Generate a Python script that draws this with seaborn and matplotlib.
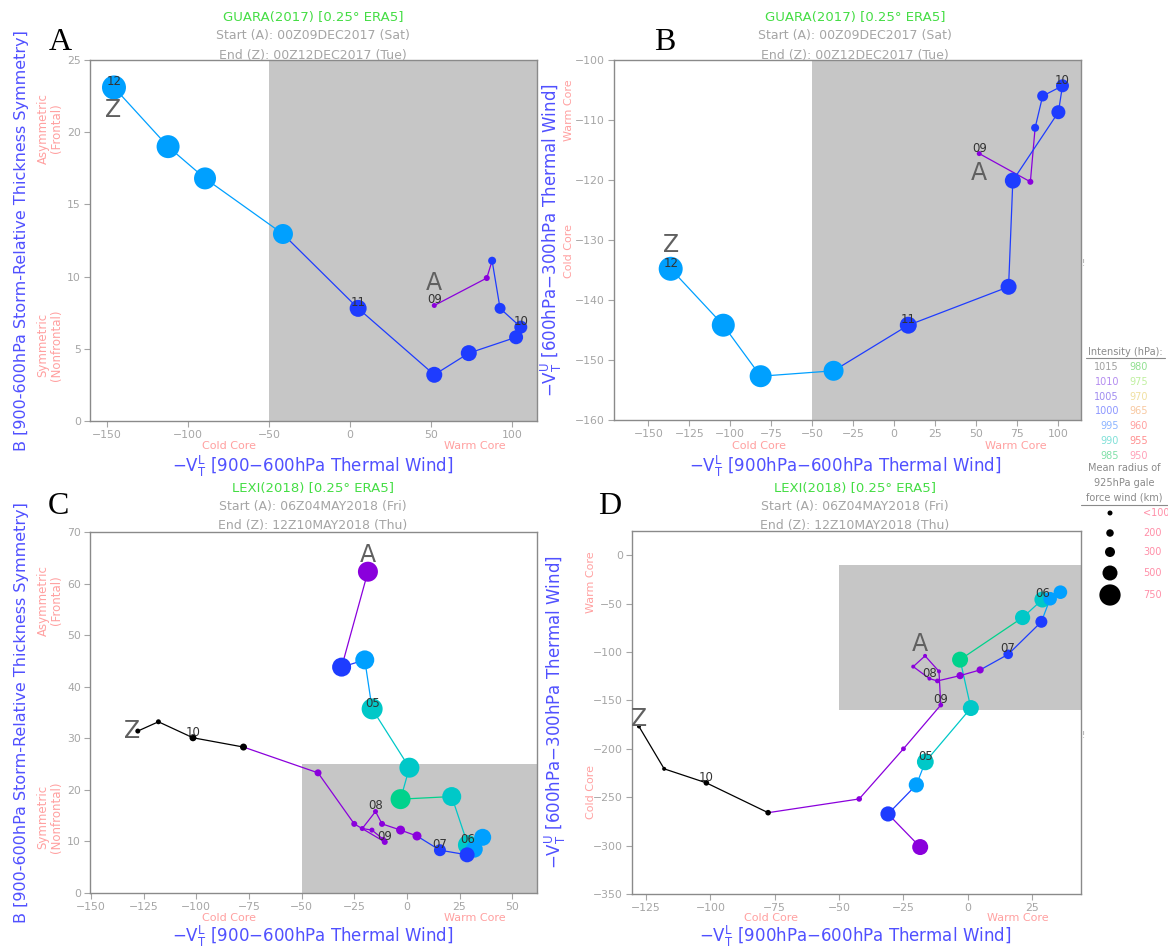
import numpy as np
import pandas as pd
import matplotlib
matplotlib.use("Agg")
import matplotlib.pyplot as plt
import seaborn as sns
from matplotlib.lines import Line2D

# ---------------- data ----------------
# GUARA (2017), 6-hourly from 00Z09DEC2017 to 00Z12DEC2017
guara_vtl = [52.0, 84.4, 87.7, 92.6, 105.4, 102.5, 73.3, 52.0, 5.0, -41.4, -89.5, -112.3, -145.7]
guara_b = [8.0, 9.9, 11.1, 7.8, 6.5, 5.8, 4.7, 3.2, 7.8, 12.95, 16.8, 19.0, 23.1]
# lower-troposphere thermal wind
guara_vtl_b = [51.9, 83.1, 86.0, 90.6, 102.7, 100.2, 72.4, 69.8, 8.6, -37.0, -81.5, -104.3, -136.4]
guara_vtu = [-115.6, -120.3, -111.3, -106.0, -104.3, -108.7, -120.1, -137.8, -144.2, -151.8, -152.7, -144.2, -134.8]
guara_mslp = [1010, 1010, 1000, 1000, 1000, 1000, 1000, 1000, 1000, 995, 995, 995, 995]
guara_radius = [100, 140, 220, 340, 420, 460, 540, 540, 580, 700, 780, 820, 860]
guara_days = ['09', '', '', '', '10', '', '', '', '11', '', '', '', '12']

# LEXI (2018), 6-hourly from 06Z04MAY2018 to 12Z10MAY2018
lexi_vtl = [-18.5, -31.0, -20.0, -16.5, 1.2, -3.0, 21.3, 29.0, 36.0, 32.0, 28.6, 15.7, 4.8, -3.0,
            -11.8, -14.9, -21.2, -16.6, -11.2, -10.5, -25.0, -42.2, -77.6, -101.6, -118.0, -127.8]
lexi_b = [62.3, 43.8, 45.2, 35.7, 24.3, 18.2, 18.7, 9.3, 10.8, 8.5, 7.4, 8.3, 11.05, 12.2,
          13.4, 15.8, 12.5, 12.2, 10.4, 9.9, 13.4, 23.3, 28.3, 30.1, 33.2, 31.4]
lexi_vtu = [-301.5, -267.3, -237.3, -213.5, -157.9, -107.9, -64.4, -45.8, -38.2, -45.0, -68.8, -102.4, -118.5,
            -124.4, -129.9, -127.5, -115.1, -104.0, -120.0, -154.8, -200.0, -251.8, -266.0, -235.2, -220.7, -176.9]
lexi_mslp = [1010, 1000, 995, 990, 990, 985, 990, 990, 995, 995, 1000, 1000, 1010, 1010,
             1010, 1010, 1010, 1010, 1010, 1010, 1010, 1010, 1015, 1015, 1015, 1015]
lexi_radius = [700, 660, 660, 740, 700, 700, 660, 700, 580, 580, 500, 380, 260, 260,
               140, 100, 100, 100, 100, 140, 140, 180, 180, 180, 100, 100]
lexi_days = ['', '', '', '05', '', '', '', '06', '', '', '', '07', '', '', '', '08',
             '', '', '', '09', '', '', '', '10', '', '']

# legend content
legend_pressures_left = [1015, 1010, 1005, 1000, 995, 990, 985]
legend_pressures_right = [980, 975, 970, 965, 960, 955, 950]
legend_radius_vals = [100, 200, 300, 500, 750]
legend_radius_text = ['<100', '200', '300', '500', '750']

# ---------------- styles ----------------
MARKER_COL = {1015: '#000000', 1010: '#8a00dc', 1005: '#5a1eff', 1000: '#1e3cff',
              995: '#00a0ff', 990: '#00c8c8', 985: '#00d28c'}
LEGEND_COL = {1015: '#a0a0a0', 1010: '#b48cf0', 1005: '#a08cf0', 1000: '#8c96ff', 995: '#8cb4ff',
              990: '#80e0d8', 985: '#80e0a8', 980: '#90e090', 975: '#c0f0a0', 970: '#f0e0a0',
              965: '#f8c8a0', 960: '#ffa0a0', 955: '#ff9090', 950: '#ffa0b8'}
BLUE = '#5050ff'
PINK = '#ffa0a0'
GRAY = '#a5a5a5'
GREEN = '#44dd44'
SHADE = '#c6c6c6'

sns.set_theme(style="white")
plt.rcParams['font.family'] = ['DejaVu Sans']
plt.rcParams['mathtext.default'] = 'regular'

W, H = 1168, 948
fig = plt.figure(figsize=(W / 100, H / 100), dpi=100)


def px_axes(l, t, r, b):
    return fig.add_axes([l / W, 1 - b / H, (r - l) / W, (b - t) / H])


def ftext(x, y, s, **kw):
    fig.text(x / W, 1 - y / H, s, **kw)


def diam(r):
    return 2.5 + 0.025 * r


def style_axes(ax, xlim, ylim, xticks, yticks):
    ax.set_xlim(*xlim)
    ax.set_ylim(*ylim)
    ax.set_xticks(xticks)
    ax.set_yticks(yticks)
    ax.tick_params(direction='out', length=4, width=0.8, color=GRAY, labelcolor=GRAY,
                   labelsize=7.8, pad=2.5, bottom=True, left=True)
    for sp in ax.spines.values():
        sp.set_color('#8a8a8a')
        sp.set_linewidth(1.0)
    ax.set_xlabel('')
    ax.set_ylabel('')


def draw_track(ax, x, y, mslp, radius, days, scale):
    cols = [MARKER_COL[p] for p in mslp]
    for i in range(len(x) - 1):
        sns.lineplot(x=x[i:i + 2], y=y[i:i + 2], color=cols[i], lw=0.9, sort=False,
                     estimator=None, ax=ax, zorder=3)
    df = pd.DataFrame({'x': x, 'y': y, 'p': mslp})
    sizes = [(scale * diam(r) * 0.72) ** 2 for r in radius]
    sns.scatterplot(data=df, x='x', y='y', hue='p', palette=MARKER_COL, s=sizes,
                    linewidth=0, legend=False, ax=ax, zorder=4)
    for xi, yi, d in zip(x, y, days):
        if d:
            ax.annotate(d, (xi, yi), xytext=(0, 4), textcoords='offset points', ha='center',
                        va='center', fontsize=8.5, color='#333333', zorder=6)


def endpoint_labels(ax, x, y, a_off, z_off):
    ax.annotate('A', (x[0], y[0]), xytext=a_off, textcoords='offset points', ha='center',
                va='center', fontsize=17, color='#606060', zorder=6)
    ax.annotate('Z', (x[-1], y[-1]), xytext=z_off, textcoords='offset points', ha='center',
                va='center', fontsize=17, color='#606060', zorder=6)


def titles(cx, y0, name, start, end):
    ftext(cx, y0, name, color=GREEN, fontsize=9.5, ha='center', va='center')
    ftext(cx, y0 + 19, start, color=GRAY, fontsize=9, ha='center', va='center')
    ftext(cx, y0 + 38, end, color=GRAY, fontsize=9, ha='center', va='center')


XLAB_AC = r'$-V_T^L$ [900$-$600hPa Thermal Wind]'
XLAB_BD = r'$-V_T^L$ [900hPa$-$600hPa Thermal Wind]'
YLAB_AC = 'B [900-600hPa Storm-Relative Thickness Symmetry]'
YLAB_BD = r'$-V_T^U$ [600hPa$-$300hPa Thermal Wind]'

# ---------------- Panel A ----------------
axA = px_axes(90, 60, 537, 421)
axA.axvspan(-50, 200, color=SHADE, zorder=1, lw=0)
draw_track(axA, guara_vtl, guara_b, guara_mslp, guara_radius, guara_days, 1.0)
endpoint_labels(axA, guara_vtl, guara_b, (0, 16), (-1, -16))
style_axes(axA, (-160.5, 115.4), (0, 25), [-150, -100, -50, 0, 50, 100], [0, 5, 10, 15, 20, 25])

# ---------------- Panel B ----------------
axB = px_axes(614, 60, 1081, 420)
axB.axvspan(-50, 200, color=SHADE, zorder=1, lw=0)
draw_track(axB, guara_vtl_b, guara_vtu, guara_mslp, guara_radius, guara_days, 1.0)
endpoint_labels(axB, guara_vtl_b, guara_vtu, (0, -14), (0, 17))
style_axes(axB, (-171, 114), (-160, -100), list(range(-150, 101, 25)), list(range(-160, -99, 10)))

# ---------------- Panel C ----------------
axC = px_axes(90, 532, 537, 893)
axC.fill_between([-50, 200], 0, 25, color=SHADE, zorder=1, lw=0)
draw_track(axC, lexi_vtl, lexi_b, lexi_mslp, lexi_radius, lexi_days, 1.0)
endpoint_labels(axC, lexi_vtl, lexi_b, (0, 12), (-4, 0))
style_axes(axC, (-150.5, 61.8), (0, 70), list(range(-150, 51, 25)), list(range(0, 71, 10)))

# ---------------- Panel D ----------------
axD = px_axes(632, 531, 1081, 894)
axD.fill_between([-50, 200], -160, -10, color=SHADE, zorder=1, lw=0)
draw_track(axD, lexi_vtl, lexi_vtu, lexi_mslp, lexi_radius, lexi_days, 0.8)
endpoint_labels(axD, lexi_vtl, lexi_vtu, (0, 146), (0, 5))
style_axes(axD, (-130.5, 44), (-350, 25), list(range(-125, 26, 25)), list(range(-350, 1, 50)))

# ---------------- texts around panels ----------------
for (x, y, s) in [(60, 42, 'A'), (665, 42, 'B'), (58, 506, 'C'), (610, 506, 'D')]:
    ftext(x, y, s, family='Liberation Serif', fontsize=23, color='black', ha='center', va='center')

titles(313, 17, 'GUARA(2017) [0.25° ERA5]', 'Start (A): 00Z09DEC2017 (Sat)', 'End (Z): 00Z12DEC2017 (Tue)')
titles(855, 17, 'GUARA(2017) [0.25° ERA5]', 'Start (A): 00Z09DEC2017 (Sat)', 'End (Z): 00Z12DEC2017 (Tue)')
titles(313, 488, 'LEXI(2018) [0.25° ERA5]', 'Start (A): 06Z04MAY2018 (Fri)', 'End (Z): 12Z10MAY2018 (Thu)')
titles(855, 488, 'LEXI(2018) [0.25° ERA5]', 'Start (A): 06Z04MAY2018 (Fri)', 'End (Z): 12Z10MAY2018 (Thu)')

# x axis captions
for (cx, y_cc, y_lab, lab, l, r) in [(313, 446, 466, XLAB_AC, 90, 537), (845, 446, 466, XLAB_BD, 614, 1081),
                                     (313, 918, 936, XLAB_AC, 90, 537), (855, 918, 936, XLAB_BD, 632, 1081)]:
    ftext(l + 0.31 * (r - l), y_cc, 'Cold Core', color=PINK, fontsize=8, ha='center', va='center')
    ftext(l + 0.86 * (r - l), y_cc, 'Warm Core', color=PINK, fontsize=8, ha='center', va='center')
    ftext(cx, y_lab, lab, color=BLUE, fontsize=12, ha='center', va='center')

# y axis captions A / C
for (t, b) in [(60, 421), (532, 893)]:
    ftext(22, (t + b) / 2, YLAB_AC, color=BLUE, fontsize=11.5, rotation=90, ha='center', va='center')
    ftext(50, t + 0.19 * (b - t), 'Asymmetric\n(Frontal)', color=PINK, fontsize=8.5, rotation=90,
          ha='center', va='center', linespacing=1.1)
    ftext(50, t + 0.79 * (b - t), 'Symmetric\n(Nonfrontal)', color=PINK, fontsize=8.5, rotation=90,
          ha='center', va='center', linespacing=1.1)
# y axis captions B / D
for (t, b, cc, px, bx) in [(60, 420, 0.53, 569, 551), (531, 894, 0.72, 591, 555)]:
    ftext(bx, (t + b) / 2, YLAB_BD, color=BLUE, fontsize=12, rotation=90, ha='center', va='center')
    ftext(px, t + 0.14 * (b - t), 'Warm Core', color=PINK, fontsize=8, rotation=90, ha='center', va='center')
    ftext(px, t + cc * (b - t), 'Cold Core', color=PINK, fontsize=8, rotation=90, ha='center', va='center')

# stray marks at right edge
ftext(1083, 263, '!', color=GRAY, fontsize=6, ha='center', va='center')
ftext(1083, 735, '!', color=GRAY, fontsize=6, ha='center', va='center')

# ---------------- legend (right) ----------------
ftext(1125, 352, 'Intensity (hPa):', color='#8a8a8a', fontsize=7, ha='center', va='center')
fig.add_artist(Line2D([1086 / W, 1165 / W], [1 - 358 / H, 1 - 358 / H], color='#8a8a8a', lw=0.8))
for i, (pl, pr) in enumerate(zip(legend_pressures_left, legend_pressures_right)):
    yy = 367 + i * 14.8
    ftext(1119, yy, str(pl), color=LEGEND_COL[pl], fontsize=7, ha='right', va='center')
    ftext(1129, yy, str(pr), color=LEGEND_COL[pr], fontsize=7, ha='left', va='center')
ftext(1124, 468, 'Mean radius of', color='#8a8a8a', fontsize=7, ha='center', va='center')
ftext(1124, 483, '925hPa gale', color='#8a8a8a', fontsize=7, ha='center', va='center')
ftext(1124, 498, 'force wind (km)', color='#8a8a8a', fontsize=7, ha='center', va='center')
fig.add_artist(Line2D([1081 / W, 1168 / W], [1 - 505 / H, 1 - 505 / H], color='#8a8a8a', lw=0.8))

axL = px_axes(1090, 505, 1168, 610)
axL.set_xlim(0, 78)
axL.set_ylim(105, 0)
axL.axis('off')
leg_y = [8, 28, 47, 68, 90]
leg_df = pd.DataFrame({'x': [20] * 5, 'y': leg_y, 'r': legend_radius_vals})
sns.scatterplot(data=leg_df, x='x', y='y', color='black', linewidth=0,
                s=[(diam(r) * 0.72) ** 2 for r in legend_radius_vals], legend=False, ax=axL)
for yy, t in zip(leg_y, legend_radius_text):
    axL.text(53, yy, t, color='#ff8fa8', fontsize=7, ha='left', va='center')
axL.set_xlabel('')
axL.set_ylabel('')

fig.savefig('out.png', dpi=100)
